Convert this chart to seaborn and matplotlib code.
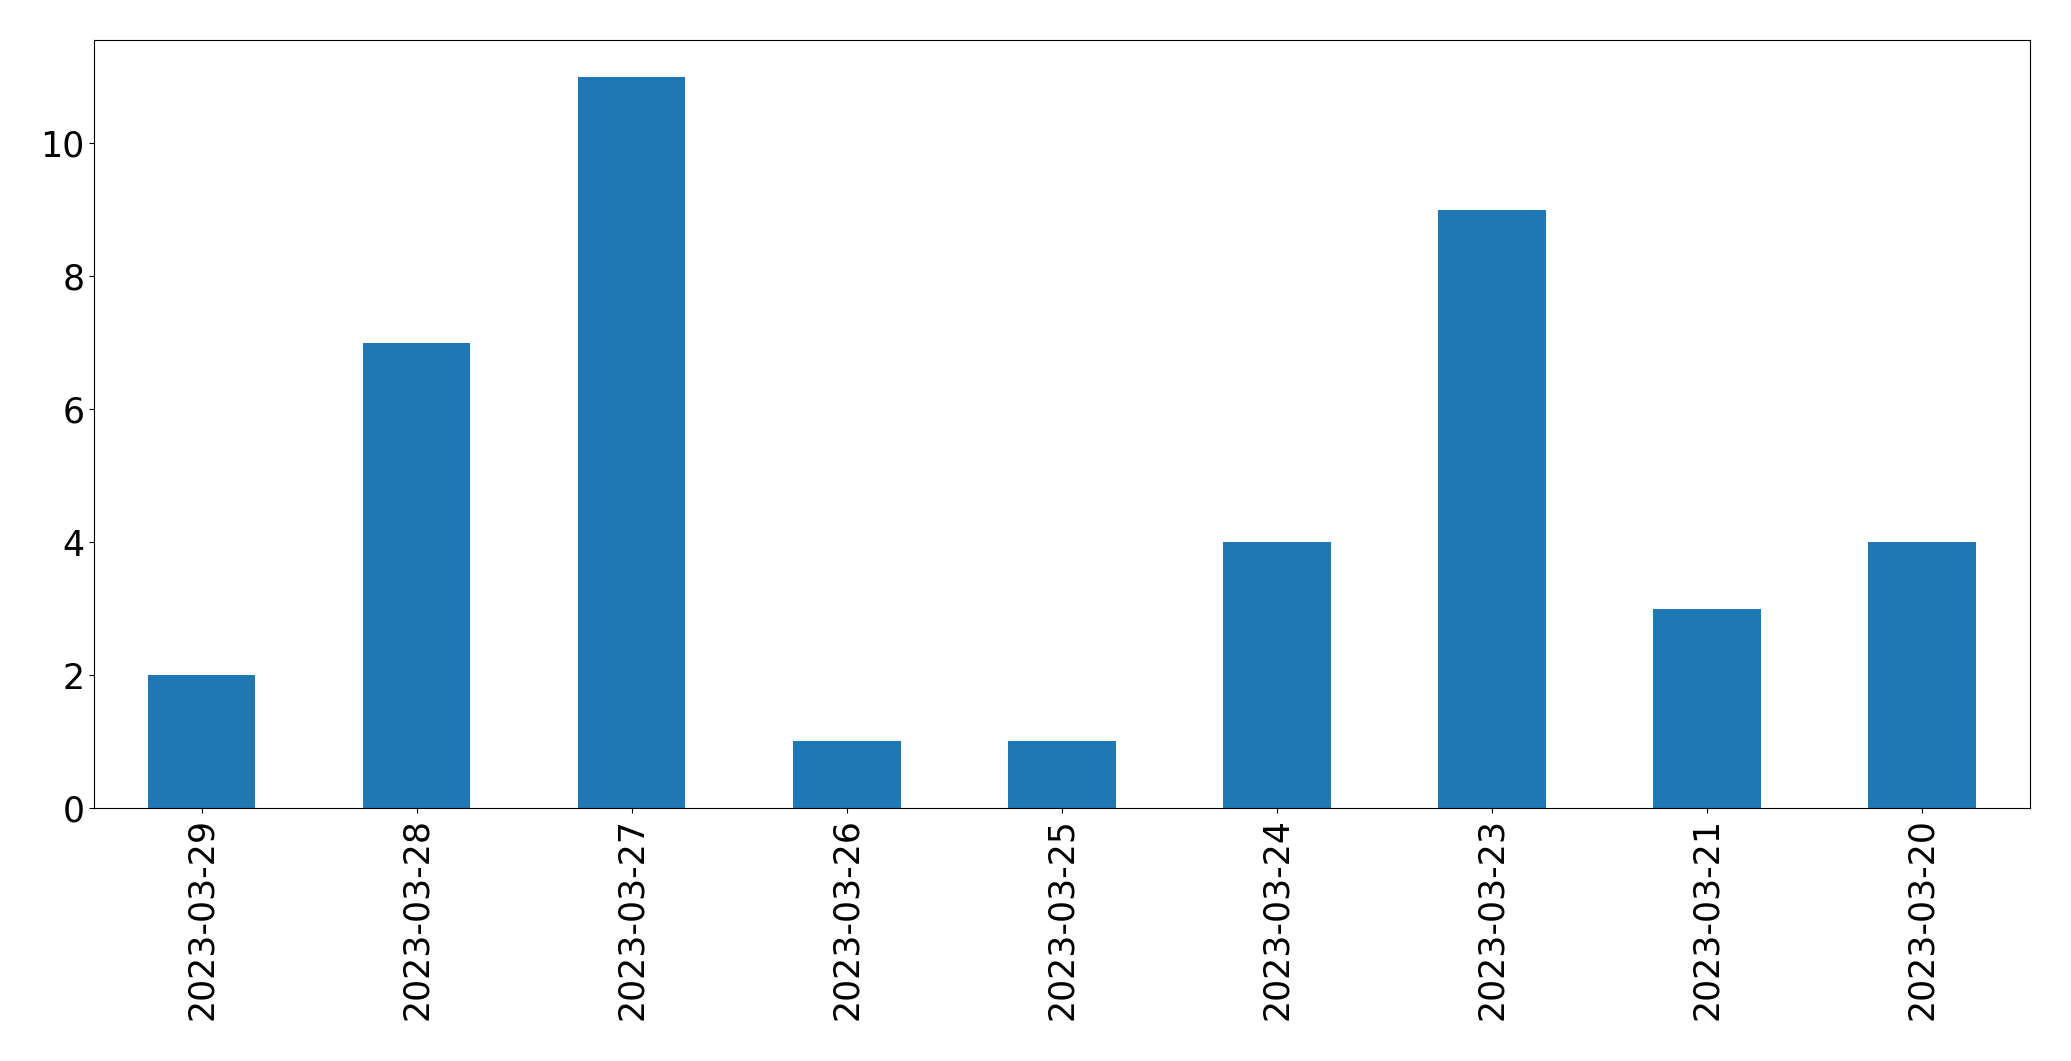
import pandas as pd
import matplotlib
matplotlib.use("Agg")
import matplotlib.pyplot as plt
import seaborn as sns

# data
dates = ["2023-03-29", "2023-03-28", "2023-03-27", "2023-03-26", "2023-03-25",
         "2023-03-24", "2023-03-23", "2023-03-21", "2023-03-20"]
counts = [2, 7, 11, 1, 1, 4, 9, 3, 4]

df = pd.DataFrame({"date": dates, "count": counts})

fig = plt.figure(figsize=(20.71, 10.61), dpi=100)
ax = fig.add_axes([0.0454, 0.2385, 0.9346, 0.7235])

sns.barplot(data=df, x="date", y="count", color="#1f77b4", width=0.5,
            saturation=1, linewidth=0, ax=ax)

ax.set_xlim(-0.5, len(dates) - 0.5)
ax.set_ylim(0, max(counts) * 1.05)
ax.set_xlabel("")
ax.set_ylabel("")
ax.tick_params(axis="both", labelsize=25)
ax.tick_params(axis="x", labelrotation=90)
for s in ax.spines.values():
    s.set_color("black")

fig.savefig("out.png", dpi=100)
